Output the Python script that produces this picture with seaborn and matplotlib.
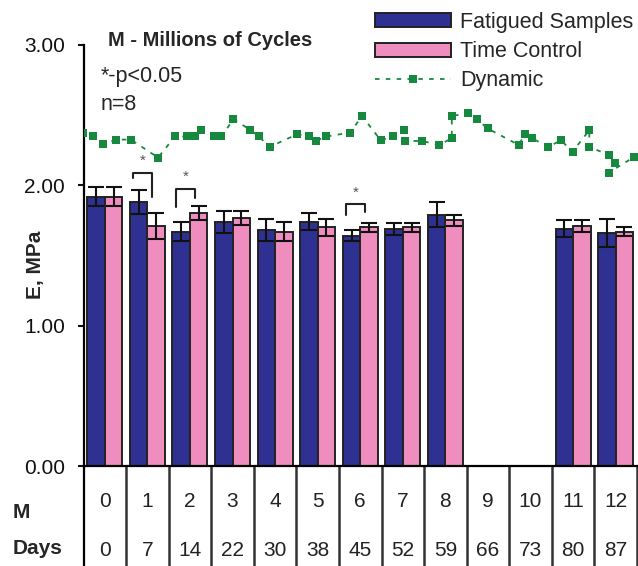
import numpy as np
import pandas as pd
import matplotlib
matplotlib.use("Agg")
import matplotlib.pyplot as plt
from matplotlib.patches import Patch
from matplotlib.lines import Line2D
import seaborn as sns

# ---------------- data ----------------
m_labels = ["0", "1", "2", "3", "4", "5", "6", "7", "8", "9", "10", "11", "12"]
days = ["0", "7", "14", "22", "30", "38", "45", "52", "59", "66", "73", "80", "87"]
nan = np.nan
fatigued = [1.92, 1.88, 1.67, 1.74, 1.68, 1.74, 1.64, 1.69, 1.79, nan, nan, 1.69, 1.66]
fatigued_err = [0.07, 0.085, 0.07, 0.08, 0.08, 0.06, 0.04, 0.045, 0.09, nan, nan, 0.06, 0.10]
control = [1.92, 1.71, 1.80, 1.77, 1.67, 1.70, 1.70, 1.70, 1.75, nan, nan, 1.71, 1.67]
control_err = [0.07, 0.09, 0.05, 0.05, 0.07, 0.06, 0.03, 0.035, 0.04, nan, nan, 0.04, 0.03]

dyn_x = [-0.52, -0.28, -0.04, 0.27, 0.61, 1.25, 1.65, 1.94, 2.13, 2.25, 2.56, 2.74,
         3.02, 3.42, 3.62, 3.87, 4.52, 4.79, 4.95, 5.20, 5.77, 6.04, 6.48, 6.77,
         7.02, 7.06, 7.45, 7.86, 8.15, 8.15, 8.54, 8.74, 8.99, 9.72, 9.87, 10.03,
         10.42, 10.71, 10.99, 11.38, 11.38, 11.84, 11.98, 11.84, 12.42]
dyn_y = [2.376, 2.348, 2.293, 2.326, 2.326, 2.198, 2.348, 2.348, 2.348, 2.395, 2.348, 2.348,
         2.471, 2.395, 2.348, 2.274, 2.364, 2.348, 2.316, 2.348, 2.376, 2.495, 2.321, 2.348,
         2.393, 2.316, 2.316, 2.288, 2.336, 2.495, 2.512, 2.471, 2.405, 2.288, 2.364, 2.336,
         2.274, 2.321, 2.241, 2.393, 2.274, 2.216, 2.162, 2.091, 2.200]

# significance brackets: group index, bracket top, left leg end, right leg end
sig_group = [1, 2, 6]
sig_top = [2.088, 1.976, 1.864]
sig_left = [2.05, 1.843, 1.79]
sig_right = [1.92, 1.912, 1.81]

series_names = ["Fatigued Samples", "Time Control"]
blue = "#2E3192"
pink = "#F08DBF"
green = "#17893F"

# ---------------- figure ----------------
sns.set_style("white")
plt.rcParams["font.family"] = ["Liberation Sans", "DejaVu Sans"]

W, H = 638, 566
fig = plt.figure(figsize=(W / 100, H / 100), dpi=100)
ax_left, ax_right, ax_bottom, ax_top = 83.5, 637, 466, 45
ax = fig.add_axes([ax_left / W, 1 - ax_bottom / H, (ax_right - ax_left) / W, (ax_bottom - ax_top) / H])

rows = []
for i, m in enumerate(m_labels):
    if not np.isnan(fatigued[i]):
        rows.append({"M": m, "series": series_names[0], "E": fatigued[i]})
    if not np.isnan(control[i]):
        rows.append({"M": m, "series": series_names[1], "E": control[i]})
df = pd.DataFrame(rows)

sns.barplot(data=df, x="M", y="E", hue="series", order=m_labels, hue_order=series_names,
            palette=[blue, pink], width=0.82, errorbar=None, edgecolor="#222222",
            linewidth=1.4, saturation=1, legend=False, ax=ax)

errs = {series_names[0]: fatigued_err, series_names[1]: control_err}
for cont, name in zip(ax.containers, series_names):
    for bar in cont:
        h = bar.get_height()
        if np.isnan(h):
            continue
        xc = bar.get_x() + bar.get_width() / 2
        idx = int(round(xc))
        ax.errorbar(xc, h, yerr=errs[name][idx], color="#111111", capsize=5.5,
                    elinewidth=1.5, capthick=1.5, zorder=5)

ax.plot(dyn_x, dyn_y, color=green, linestyle=(0, (2.5, 3.5)), linewidth=1.3,
        marker="s", markersize=5.8, markeredgewidth=0, zorder=6, clip_on=True)

# brackets
for g, top, le, re in zip(sig_group, sig_top, sig_left, sig_right):
    xl, xr = g - 0.33, g + 0.11
    ax.plot([xl, xl, xr, xr], [le, top, top, re], color="#222222", lw=1.5, zorder=7)
    ax.text((xl + xr) / 2, top + 0.085, "*", ha="center", va="center", fontsize=11, color="#555555")

ax.set_xlim(-0.5, 12.5)
ax.set_ylim(0, 3.0)
ax.set_yticks([0, 1, 2, 3])
ax.set_yticklabels(["0.00", "1.00", "2.00", "3.00"])
ax.tick_params(axis="y", direction="out", length=4.5, width=1.5, pad=9, labelsize=15,
               left=True, colors="#111111")
ax.tick_params(axis="x", bottom=False, labelbottom=False)
ax.set_xlabel("")
ax.set_ylabel("")
for s in ["top", "right"]:
    ax.spines[s].set_visible(False)
for s in ["left", "bottom"]:
    ax.spines[s].set_color("#000000")
    ax.spines[s].set_linewidth(1.6)

# table below axis
trans = matplotlib.transforms.blended_transform_factory(ax.transData, ax.transAxes)
ax_h = ax_bottom - ax_top
tbl_bottom = -(H - ax_bottom) / ax_h
ax.plot([-0.5, -0.5], [0, tbl_bottom], transform=trans, color="#000000", lw=1.6, clip_on=False)
for k in range(1, 14):
    ax.plot([k - 0.5, k - 0.5], [0, tbl_bottom], transform=trans, color="#333333", lw=1.8,
            clip_on=False)
for i in range(len(m_labels)):
    ax.text(i, -(507 - ax_bottom) / ax_h, m_labels[i], transform=trans, ha="center",
            va="baseline", fontsize=15, color="#222222", clip_on=False)
    ax.text(i, -(556 - ax_bottom) / ax_h, days[i], transform=trans, ha="center",
            va="baseline", fontsize=15, color="#222222", clip_on=False)
fig.text(12.7 / W, 1 - 518 / H, "M", fontsize=15, fontweight="bold", va="baseline", ha="left")
fig.text(12.7 / W, 1 - 554 / H, "Days", fontsize=15, fontweight="bold", va="baseline", ha="left")

# annotations
fig.text(36 / W, 1 - 265 / H, "E, MPa", rotation=90, fontsize=15, fontweight="bold",
         ha="center", va="center")
fig.text(108 / W, 1 - 40 / H, "M - Millions of Cycles", fontsize=14.5, fontweight="bold",
         ha="left", va="center")
fig.text(101 / W, 1 - 76.5 / H, "*-p<0.05", fontsize=15.5, ha="left", va="center")
fig.text(101 / W, 1 - 104 / H, "n=8", fontsize=15.5, ha="left", va="center")

# legend
handles = [Patch(facecolor=blue, edgecolor="#222222", linewidth=1.4),
           Patch(facecolor=pink, edgecolor="#222222", linewidth=1.4),
           Line2D([0], [0], color=green, linestyle=(0, (2.5, 3.5)), linewidth=1.3,
                  marker="s", markersize=5.8, markeredgewidth=0)]
fig.legend(handles, ["Fatigued Samples", "Time Control", "Dynamic"], loc="upper left",
           bbox_to_anchor=(375 / W, 1 - 12 / H), bbox_transform=fig.transFigure,
           frameon=False, fontsize=15.5, handlelength=3.55, handleheight=0.62,
           handletextpad=0.42, labelspacing=0.38, borderpad=0, borderaxespad=0)

fig.savefig("out.png", dpi=100)
